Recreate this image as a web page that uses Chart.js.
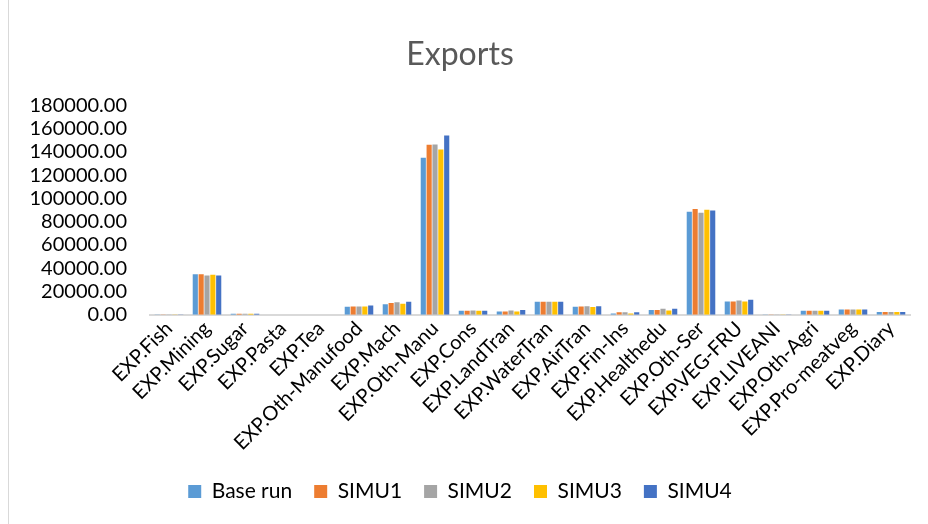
<!DOCTYPE html>
<html>
<head>
<meta charset="utf-8">
<script src="https://cdn.jsdelivr.net/npm/chart.js@4"></script>
<style>
  html, body { margin: 0; padding: 0; background: #fff; }
  #wrap { position: absolute; left: 0; top: 0; width: 928px; height: 524px; }
  #edge { position: absolute; left: 8px; top: 0; width: 1px; height: 524px; background: #d9d9d9; }
</style>
</head>
<body>
<div id="wrap"><canvas id="c" width="928" height="524"></canvas></div>
<div id="edge"></div>
<script>
const categories = ['EXP.Fish','EXP.Mining','EXP.Sugar','EXP.Pasta','EXP.Tea','EXP.Oth-Manufood','EXP.Mach','EXP.Oth-Manu','EXP.Cons','EXP.LandTran','EXP.WaterTran','EXP.AirTran','EXP.Fin-Ins','EXP.Healthedu','EXP.Oth-Ser','EXP.VEG-FRU','EXP.LIVEANI','EXP.Oth-Agri','EXP.Pro-meatveg','EXP.Diary'];
const seriesNames = ['Base run','SIMU1','SIMU2','SIMU3','SIMU4'];
const baseRun = [100, 34700, 800, 50, 50, 6900, 8900, 135000, 3400, 2800, 11200, 6900, 1100, 4000, 88600, 11400, 100, 3300, 4500, 2400];
const simu1   = [100, 34700, 900, 50, 50, 7100, 10000, 146200, 3400, 2800, 11200, 7100, 2000, 4000, 90800, 11400, 100, 3300, 4500, 2400];
const simu2   = [100, 33800, 900, 50, 50, 7100, 10600, 146400, 3700, 3700, 11100, 7300, 2000, 5200, 87700, 12300, 100, 3300, 4500, 2300];
const simu3   = [100, 34400, 800, 50, 50, 7100, 9500, 142100, 3400, 2800, 11200, 6600, 1100, 3700, 90300, 11400, 100, 3300, 4500, 2300];
const simu4   = [100, 33800, 900, 50, 50, 8000, 11200, 154200, 3400, 4000, 11200, 7300, 2000, 5200, 89700, 12900, 100, 3300, 4500, 2400];
const yTicks = [0, 20000, 40000, 60000, 80000, 100000, 120000, 140000, 160000, 180000];

const colors = ['#5B9BD5', '#ED7D31', '#A5A5A5', '#FFC000', '#4472C4'];
const values = [baseRun, simu1, simu2, simu3, simu4];

new Chart(document.getElementById('c'), {
  type: 'bar',
  data: {
    labels: categories,
    datasets: values.map((v, i) => ({
      label: seriesNames[i],
      data: v,
      backgroundColor: colors[i],
      borderWidth: 0,
      categoryPercentage: 0.77,
      barPercentage: 0.88
    }))
  },
  options: {
    responsive: false,
    animation: false,
    devicePixelRatio: 1,
    layout: { padding: { left: 10, right: 18, top: 0, bottom: 12 } },
    plugins: {
      title: {
        display: true,
        text: 'Exports',
        color: '#595959',
        font: { family: 'Lato', size: 32, weight: 'normal' },
        padding: { top: 35, bottom: 32 }
      },
      legend: {
        position: 'bottom',
        labels: {
          color: '#000',
          font: { family: 'Lato', size: 21 },
          boxWidth: 13,
          boxHeight: 13,
          padding: 22
        }
      },
      tooltip: { enabled: false }
    },
    scales: {
      x: {
        afterFit: s => { s.height += 2; },
        grid: { display: false, drawTicks: false },
        border: { display: true, color: '#d9d9d9', width: 2 },
        ticks: {
          color: '#000',
          font: { family: 'Lato', size: 20 },
          minRotation: 45,
          maxRotation: 45,
          autoSkip: false,
          padding: 2
        }
      },
      y: {
        min: 0,
        max: 180000,
        afterFit: s => { s.width = 140; },
        afterBuildTicks: s => { s.ticks = yTicks.map(v => ({ value: v })); },
        grid: { display: false, drawTicks: false },
        border: { display: false },
        ticks: {
          color: '#000',
          font: { family: 'Lato', size: 20 },
          padding: 23,
          autoSkip: false,
          callback: v => Number(v).toFixed(2)
        }
      }
    }
  }
});
</script>
</body>
</html>
